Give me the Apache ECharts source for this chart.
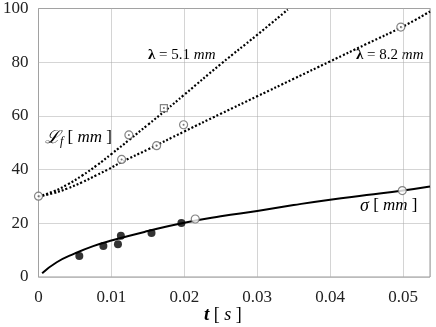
<!DOCTYPE html>
<html style="height: 100%">
    <head>
        <meta charset="utf-8">
    </head>
    <body style="height: 100%; margin: 0; background: #fff">
        <div id="container" style="width: 436px; height: 327px"></div>

        <script type="text/javascript" src="https://cdn.jsdelivr.net/npm/echarts@6/dist/echarts.min.js"></script>
        <script type="text/javascript">
// sigma [mm] : measured (filled), other runs (open), fitted curve
var sigmaPoints = [[0.0056, 7.8], [0.0089, 11.5], [0.0109, 12.2], [0.0113, 15.4], [0.0155, 16.4], [0.0196, 20.1]];
var sigmaOpen = [[0.0215, 21.6], [0.0499, 32.2]];
var sigmaCurve = [[0.0005, 1.4], [0.0025, 5.5], [0.005, 8.8], [0.0075, 11.5], [0.01, 13.6], [0.015, 17.1],
    [0.02, 20.2], [0.025, 22.6], [0.03, 24.6], [0.035, 26.8], [0.04, 28.8], [0.045, 30.5], [0.05, 32.2], [0.0537, 33.7]];

// L_f [mm] for lambda = 5.1 mm and 8.2 mm
var lf51Points = [[0.0124, 52.9], [0.0199, 56.7]];
var lf51Square = [[0.0172, 62.9]];
var lf82Points = [[0, 30.1], [0.0114, 43.8], [0.0162, 48.9], [0.0497, 93.1]];
var lf51Curve = [[0, 30], [0.002, 31.8], [0.004, 34.5], [0.006, 37.8], [0.008, 41.6], [0.01, 45.8], [0.0125, 51.2],
    [0.015, 56.7], [0.0175, 62.2], [0.02, 67.9], [0.025, 79.3], [0.03, 90.2], [0.0342, 99.6]];
var lf82Curve = [[0, 30], [0.002, 31.2], [0.004, 33], [0.006, 35.3], [0.008, 38], [0.0095, 40], [0.0114, 42.8],
    [0.015, 47.5], [0.02, 54.2], [0.025, 60.8], [0.03, 67.3], [0.035, 73.8], [0.04, 80.3], [0.045, 86.8],
    [0.05, 93.3], [0.0537, 98.9]];

var xTicks = [0, 0.01, 0.02, 0.03, 0.04, 0.05];

var dom = document.getElementById("container");
var myChart = echarts.init(dom, null, {renderer: 'canvas'});

var serif = 'Liberation Serif, DejaVu Serif, serif';
var openMarker = {
    type: 'scatter', symbol: 'circle', symbolSize: 8, z: 5,
    itemStyle: {color: '#fff', borderColor: '#666', borderWidth: 1.2}
};

var option = {
    animation: false,
    backgroundColor: '#fff',
    grid: {left: 37, right: 6, top: 8, bottom: 50, show: true, borderColor: '#999', borderWidth: 1},
    xAxis: {
        type: 'value', min: 0, max: 0.0537, interval: 0.01,
        axisLine: {show: false}, axisTick: {show: false},
        splitLine: {lineStyle: {color: '#aaa', type: 'dotted'}},
        axisLabel: {
            fontFamily: serif, fontSize: 17, color: '#222', margin: 12,
            formatter: function (v) { return xTicks.indexOf(+v.toFixed(4)) >= 0 ? String(+v.toFixed(2)) : ''; }
        }
    },
    yAxis: {
        type: 'value', min: 0, max: 100, interval: 20,
        axisLine: {show: false}, axisTick: {show: false},
        splitLine: {lineStyle: {color: '#aaa', type: 'dotted'}},
        axisLabel: {fontFamily: serif, fontSize: 17, color: '#222', margin: 10}
    },
    series: [
        {type: 'line', data: sigmaCurve, smooth: true, showSymbol: false, lineStyle: {color: '#000', width: 2}},
        {type: 'line', data: lf51Curve, smooth: true, showSymbol: false, lineStyle: {color: '#000', width: 2.2, type: [2, 2]}},
        {type: 'line', data: lf82Curve, smooth: true, showSymbol: false, lineStyle: {color: '#000', width: 2.2, type: [2, 2]}},
        {type: 'scatter', data: sigmaPoints, symbolSize: 8, z: 5, itemStyle: {color: '#000'}},
        Object.assign({data: sigmaOpen}, openMarker),
        Object.assign({data: lf51Points}, openMarker),
        Object.assign({data: lf82Points}, openMarker),
        Object.assign({data: lf51Square}, openMarker, {symbol: 'rect', symbolSize: 7}),
        {type: 'scatter', data: lf51Points.concat(lf82Points, lf51Square), symbolSize: 2, z: 6, itemStyle: {color: '#555'}}
    ],
    graphic: [
        {type: 'text', left: 148, top: 48, style: {
            text: '{l|λ} = 5.1 {i|mm}', font: '15px ' + serif, fill: '#000',
            rich: {l: {fontFamily: serif, fontWeight: 'bold', fontSize: 15}, i: {fontFamily: serif, fontStyle: 'italic', fontSize: 15}}
        }},
        {type: 'text', left: 356, top: 48, style: {
            text: '{l|λ} = 8.2 {i|mm}', font: '15px ' + serif, fill: '#000',
            rich: {l: {fontFamily: serif, fontWeight: 'bold', fontSize: 15}, i: {fontFamily: serif, fontStyle: 'italic', fontSize: 15}}
        }},
        {type: 'text', left: 45, top: 129, style: {
            text: '{L|ℒ}{f|f} [ {i|mm} ]', font: '17px ' + serif, fill: '#000',
            rich: {
                L: {fontFamily: 'DejaVu Serif, serif', fontStyle: 'italic', fontSize: 18},
                f: {fontFamily: serif, fontStyle: 'italic', fontSize: 12, padding: [8, 0, 0, 0]},
                i: {fontFamily: serif, fontStyle: 'italic', fontSize: 17}
            }
        }},
        {type: 'text', left: 360, top: 197, style: {
            text: '{s|σ} [ {i|mm} ]', font: '17px ' + serif, fill: '#000',
            rich: {s: {fontFamily: serif, fontStyle: 'italic', fontSize: 18}, i: {fontFamily: serif, fontStyle: 'italic', fontSize: 17}}
        }},
        {type: 'text', left: 204, top: 306, style: {
            text: '{t|t} [ {i|s} ]', font: '18px ' + serif, fill: '#000',
            rich: {t: {fontFamily: serif, fontStyle: 'italic', fontWeight: 'bold', fontSize: 19}, i: {fontFamily: serif, fontStyle: 'italic', fontSize: 18}}
        }}
    ]
};

if (option && typeof option === 'object') {
    myChart.setOption(option);
}
        </script>
    </body>
</html>
